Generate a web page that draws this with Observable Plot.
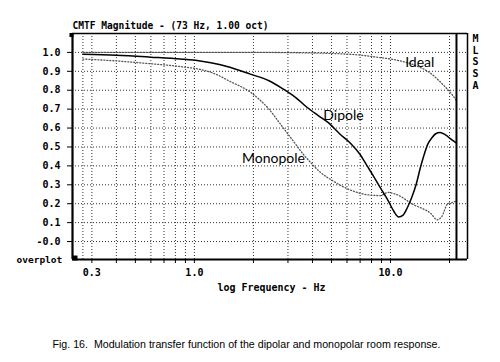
<!DOCTYPE html>
<html><head><meta charset="utf-8">
<script src="https://cdn.jsdelivr.net/npm/d3@7"></script>
<script src="https://cdn.jsdelivr.net/npm/@observablehq/plot@0.6"></script>
<style>
html,body{margin:0;padding:0;background:#fff;}
#chart{width:500px;height:362px;}
</style></head>
<body><div id="chart"></div>
<script>
// ---- data ----
const titleText = "CMTF Magnitude - (73 Hz, 1.00 oct)";
const xLabelText = "log Frequency - Hz";
const captionText = "Fig. 16.  Modulation transfer function of the dipolar and monopolar room response.";
const sideLetters = "M\nL\nS\nS\nA";
const overplotText = "overplot";

const xDomain = [0.239, 24.7];
const yDomain = [-0.095, 1.1];
const cursorFreq = 21.7;

const yTicks = [0, 0.1, 0.2, 0.3, 0.4, 0.5, 0.6, 0.7, 0.8, 0.9, 1.0];
const xTicks = [0.3, 0.4, 0.5, 0.6, 0.7, 0.8, 0.9, 1, 2, 3, 4, 5, 6, 7, 8, 9, 10, 20];
const xGridExtra = [0.27];
const xLabeledTicks = [0.3, 1, 10];
const xLabeledText = ["0.3", "1.0", "10.0"];

const dipoleF = [0.27, 0.4, 0.6, 0.85, 1.07, 1.36, 1.93, 2.4, 2.8, 3.3, 3.75, 4.3, 4.8, 5.5, 6.25, 7.0, 7.6, 8.2, 8.7, 9.3, 9.8, 10.4, 11.0, 11.6, 12.2, 12.8, 13.5, 14.2, 14.8, 15.5, 16.3, 17.0, 17.9, 19.0, 20.4, 21.7];
const dipoleV = [0.99, 0.985, 0.975, 0.965, 0.955, 0.935, 0.885, 0.85, 0.81, 0.76, 0.71, 0.665, 0.63, 0.57, 0.52, 0.46, 0.40, 0.345, 0.30, 0.25, 0.21, 0.16, 0.13, 0.14, 0.18, 0.23, 0.30, 0.39, 0.455, 0.515, 0.55, 0.57, 0.577, 0.565, 0.54, 0.52];

const monoF = [0.27, 0.4, 0.6, 0.85, 1.07, 1.25, 1.53, 1.93, 2.15, 2.4, 2.75, 3.2, 3.6, 3.9, 4.4, 5.1, 6.0, 7.0, 8.0, 8.9, 9.7, 10.3, 11.2, 12.2, 13.1, 14.5, 16.0, 17.3, 18.2, 19.6, 20.5, 21.7];
const monoV = [0.965, 0.955, 0.94, 0.925, 0.91, 0.89, 0.845, 0.79, 0.75, 0.70, 0.62, 0.53, 0.46, 0.42, 0.365, 0.32, 0.28, 0.255, 0.245, 0.243, 0.26, 0.255, 0.24, 0.215, 0.195, 0.175, 0.15, 0.115, 0.13, 0.20, 0.205, 0.215];

const idealF = [0.27, 2.0, 3.5, 6.25, 8.5, 11.2, 13.5, 16.0, 18.5, 20.5, 21.7];
const idealV = [1.0, 1.0, 0.998, 0.99, 0.975, 0.955, 0.93, 0.89, 0.83, 0.78, 0.745];

const labelNames = ["Ideal", "Dipole", "Monopole"];
const labelF = [14.1, 5.76, 2.53];
const labelV = [0.947, 0.667, 0.44];

// ---- build tables ----
const zip = (F, V) => F.map((f, i) => ({f, v: V[i]}));
const dipole = zip(dipoleF, dipoleV);
const mono = zip(monoF, monoV);
const ideal = zip(idealF, idealV);
const labels = labelNames.map((name, i) => ({name, f: labelF[i], v: labelV[i]}));

const mono10 = {fontFamily: "DejaVu Sans Mono", fontWeight: "bold"};

const plot = Plot.plot({
  width: 500,
  height: 362,
  marginLeft: 72,
  marginRight: 33,
  marginTop: 33,
  marginBottom: 103,
  style: {fontFamily: "DejaVu Sans Mono", fontWeight: "bold", fontSize: "10px", background: "white", color: "black"},
  x: {type: "log", domain: xDomain},
  y: {domain: yDomain},
  marks: [
    // grid
    Plot.ruleY(yTicks, {stroke: "#333", strokeWidth: 1, strokeDasharray: "1,2"}),
    Plot.ruleX(xTicks.concat(xGridExtra), {stroke: "#333", strokeWidth: 1, strokeDasharray: "1,2"}),
    // axes
    Plot.axisY({ticks: yTicks, tickSize: 5, tickPadding: 7, label: null,
      tickFormat: d => d === 0 ? "-0.0" : d.toFixed(1), fontSize: 10}),
    Plot.axisX({ticks: xTicks, tickSize: 4, tickPadding: 5, label: null, fontSize: 10,
      tickFormat: d => { const i = xLabeledTicks.indexOf(d); return i >= 0 ? xLabeledText[i] : ""; }}),
    // curves
    Plot.line(ideal, {x: "f", y: "v", stroke: "#555", strokeWidth: 1.3, strokeDasharray: "1,2", curve: "monotone-x"}),
    Plot.line(mono, {x: "f", y: "v", stroke: "#555", strokeWidth: 1.3, strokeDasharray: "1,2", curve: "monotone-x"}),
    Plot.line(dipole, {x: "f", y: "v", stroke: "#000", strokeWidth: 1.5, curve: "monotone-x"}),
    // frame
    Plot.ruleX([xDomain[0]], {stroke: "#000", strokeWidth: 2.2}),
    Plot.ruleY([yDomain[0]], {stroke: "#000", strokeWidth: 2.2}),
    Plot.ruleY([yDomain[1]], {stroke: "#000", strokeWidth: 1.5}),
    Plot.ruleX([xDomain[1]], {stroke: "#000", strokeWidth: 1.5}),
    Plot.ruleX([cursorFreq], {stroke: "#000", strokeWidth: 2}),
    // corner squares
    Plot.dot([0], {frameAnchor: "top-left", symbol: "square", r: 2.3, fill: "#000", stroke: null, dx: -1, dy: 1.5}),
    Plot.dot([0], {frameAnchor: "bottom-left", symbol: "square", r: 2.8, fill: "#000", stroke: null, dx: 2.5, dy: -1.5}),
    // handwritten labels
    Plot.text(labels, {x: "f", y: "v", text: "name", fontFamily: "Lato", fontWeight: "normal", fontSize: 14, fill: "#000"}),
    // texts
    Plot.text([titleText], {frameAnchor: "top-left", dy: -8, textAnchor: "start", lineAnchor: "middle", fontSize: 11, ...mono10}),
    Plot.text([sideLetters], {frameAnchor: "top-right", dx: 5, dy: 0, textAnchor: "start", lineAnchor: "top", lineHeight: 1.17, fontSize: 10, ...mono10}),
    Plot.text([overplotText], {frameAnchor: "bottom-left", dx: -56, textAnchor: "start", lineAnchor: "middle", fontSize: 9.5, ...mono10}),
    Plot.text([xLabelText], {frameAnchor: "bottom", dx: 1.5, dy: 28, lineAnchor: "middle", fontSize: 10.5, ...mono10}),
    Plot.text([captionText], {frameAnchor: "bottom", dx: -23.5, dy: 85, lineAnchor: "middle", fontSize: 11, fontFamily: "Liberation Sans", fontWeight: "normal"})
  ]
});
document.getElementById("chart").appendChild(plot);

// squeeze fixed-width texts to the reference widths
const fit = {};
fit[titleText] = 196;
fit[xLabelText] = 108;
fit[captionText] = 388;
d3.select(plot).selectAll("text").each(function() {
  const t = this.textContent;
  if (fit[t] !== undefined) d3.select(this).attr("textLength", fit[t]).attr("lengthAdjust", "spacingAndGlyphs");
});
</script>
</body></html>
